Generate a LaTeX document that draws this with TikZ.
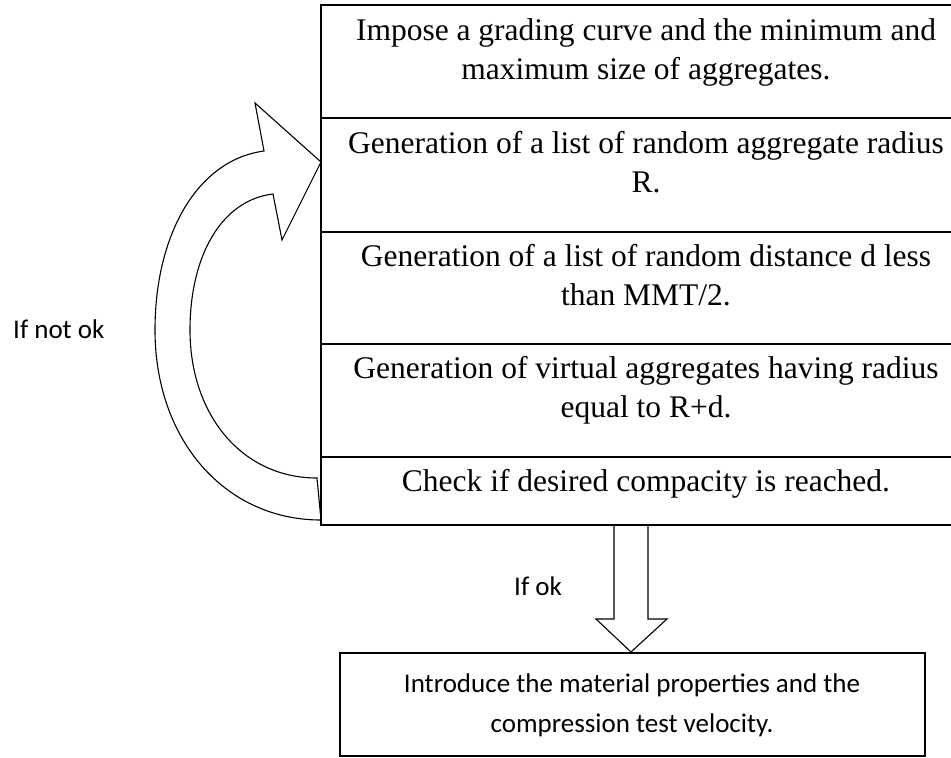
\documentclass[tikz,border=0pt]{standalone}
\usepackage{fontspec}
\setmainfont{Liberation Serif}
\newfontfamily\calfont{Carlito}
\begin{document}
\begin{tikzpicture}[x=1pt,y=-1pt,
  boxtxt/.style={font=\fontsize{31.5}{39}\selectfont, align=center, inner sep=0pt, anchor=base},
  caltxt/.style={font=\calfont\fontsize{27}{40}\selectfont, align=center, inner sep=0pt, anchor=base},
  frame/.style={line width=1.5pt},
  blockarrow/.style={line width=1.1pt, fill=white, line join=miter}]
\useasboundingbox (0,0) rectangle (951,758);
\clip (0,0) rectangle (951,758);
% curved block arrow (loop back)
\draw[blockarrow] (321,520) .. controls (225,520) and (155,440) .. (155,330)
  .. controls (155,235) and (197,160) .. (264,151)
  -- (255,103) -- (321,162) -- (282,240) -- (273,194)
  .. controls (222,200) and (190,255) .. (190,330)
  .. controls (190,415) and (242,478) .. (317,478) -- cycle;
% down block arrow
\draw[blockarrow] (614,524) -- (614,619) -- (596,619) -- (631,652) -- (667,619) -- (648,619) -- (648,524);
% main stacked box
\coordinate (tl) at (321,5);
\coordinate (br) at (980,525);
\draw[frame] (tl) rectangle (br);
\foreach \y in {118,232,344,457} \draw[frame] (321,\y) -- (980,\y);
% bottom box
\coordinate (btl) at (340,653);
\coordinate (bbr) at (925,756);
\draw[frame] (btl) rectangle (bbr);
% texts (base anchor = baseline of the last line)
\node[boxtxt] (b1) at (646,79) {Impose a grading curve and the minimum and\\maximum size of aggregates.};
\node[boxtxt] (b2) at (646,192) {Generation of a list of random aggregate radius\\R.};
\node[boxtxt] (b3) at (646,305) {Generation of a list of random distance d less\\than MMT/2.};
\node[boxtxt] (b4) at (646,417) {Generation of virtual aggregates having radius\\equal to R+d.};
\node[boxtxt] (b5) at (646,491) {Check if desired compacity is reached.};
\node[caltxt] (b6) at (632,732) {Introduce the material properties and the\\compression test velocity.};
\node[caltxt, anchor=base west] (ok) at (514,595) {If ok};
\node[caltxt, anchor=base west] (notok) at (13,338) {If not ok};
\end{tikzpicture}
\end{document}
